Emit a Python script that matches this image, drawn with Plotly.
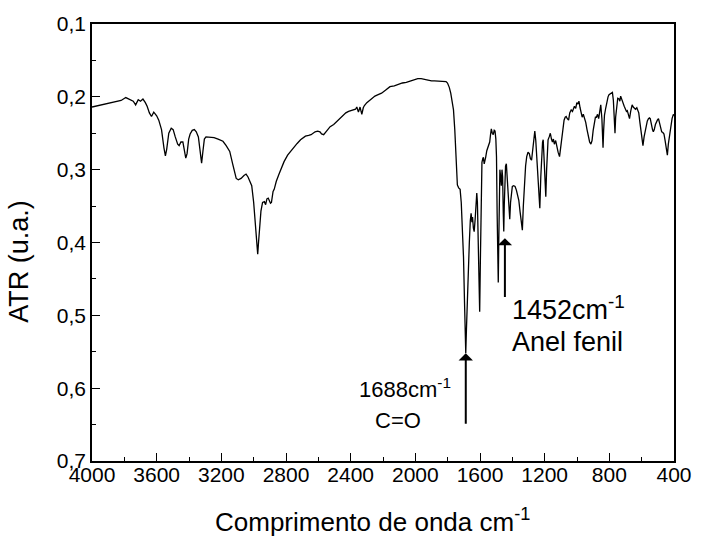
import plotly.graph_objects as go

# Wavenumber (cm-1) and ATR (a.u.)
wavenumber = [4000, 3900, 3820, 3791, 3770, 3745, 3730, 3714, 3700, 3685, 3670, 3659, 3645, 3632, 3618, 3600,
              3587, 3570, 3555, 3546, 3538, 3525, 3510, 3498, 3485, 3470, 3461, 3450, 3438, 3428, 3420, 3412,
              3402, 3393, 3380, 3367, 3355, 3342, 3332, 3322, 3314, 3305, 3295, 3285, 3265, 3245, 3220, 3190,
              3170, 3148, 3130, 3118, 3108, 3095, 3078, 3060, 3047, 3035, 3026, 3012, 3000, 2992, 2986, 2980,
              2975, 2970, 2966, 2960, 2955, 2945, 2934, 2926, 2918, 2910, 2904, 2896, 2890, 2880, 2873, 2860,
              2843, 2830, 2812, 2790, 2772, 2751, 2731, 2710, 2680, 2660, 2645, 2620, 2604, 2590, 2580, 2567,
              2550, 2527, 2505, 2486, 2465, 2445, 2430, 2413, 2395, 2382, 2370, 2362, 2352, 2342, 2331, 2322,
              2315, 2300, 2290, 2270, 2250, 2230, 2209, 2185, 2157, 2130, 2107, 2080, 2056, 2030, 2005, 1985,
              1964, 1945, 1925, 1900, 1882, 1850, 1821, 1810, 1801, 1790, 1781, 1772, 1764, 1756, 1750, 1744,
              1740, 1732, 1723, 1716, 1709, 1702, 1696, 1691, 1688, 1684, 1678, 1672, 1666, 1660, 1655, 1650,
              1646, 1641, 1636, 1630, 1625, 1620, 1616, 1610, 1605, 1602, 1598, 1593, 1588, 1583, 1579, 1574,
              1570, 1565, 1558, 1552, 1545, 1540, 1535, 1530, 1524, 1518, 1512, 1507, 1502, 1498, 1494, 1490,
              1487, 1484, 1481, 1477, 1472, 1468, 1464, 1460, 1456, 1453, 1450, 1446, 1442, 1437, 1432, 1426,
              1420, 1416, 1411, 1406, 1400, 1392, 1383, 1375, 1368, 1360, 1352, 1345, 1338, 1332, 1326, 1318,
              1311, 1303, 1295, 1288, 1281, 1274, 1268, 1261, 1255, 1248, 1240, 1234, 1230, 1224, 1218, 1213,
              1209, 1203, 1198, 1193, 1188, 1183, 1179, 1172, 1165, 1158, 1152, 1146, 1140, 1132, 1125, 1117,
              1108, 1100, 1093, 1087, 1080, 1073, 1067, 1060, 1052, 1045, 1036, 1028, 1022, 1016, 1008, 1001,
              994, 988, 981, 975, 968, 961, 954, 946, 938, 930, 922, 914, 907, 900, 893, 886,
              880, 873, 866, 860, 853, 846, 842, 839, 835, 830, 822, 815, 808, 802, 795, 788,
              781, 775, 770, 765, 761, 755, 748, 740, 735, 730, 722, 715, 708, 700, 694, 689,
              682, 675, 668, 662, 659, 652, 645, 638, 630, 624, 618, 611, 604, 598, 592, 585,
              578, 572, 565, 558, 552, 547, 540, 533, 528, 522, 515, 509, 503, 496, 490, 483,
              476, 469, 462, 455, 449, 441, 435, 427, 420, 412, 404, 400]

atr = [0.214, 0.209, 0.205, 0.201, 0.203, 0.206, 0.211, 0.204, 0.206, 0.203, 0.208, 0.213, 0.222, 0.227, 0.221, 0.226,
       0.232, 0.245, 0.270, 0.281, 0.272, 0.250, 0.243, 0.245, 0.255, 0.265, 0.267, 0.262, 0.262, 0.272, 0.284, 0.278,
       0.258, 0.251, 0.246, 0.245, 0.248, 0.255, 0.270, 0.291, 0.275, 0.258, 0.255, 0.255, 0.255, 0.256, 0.258, 0.261,
       0.267, 0.275, 0.292, 0.305, 0.312, 0.314, 0.312, 0.308, 0.306, 0.310, 0.314, 0.322, 0.345, 0.368, 0.387, 0.410,
       0.416, 0.400, 0.387, 0.365, 0.357, 0.345, 0.344, 0.348, 0.340, 0.339, 0.342, 0.346, 0.345, 0.330, 0.327, 0.316,
       0.306, 0.298, 0.289, 0.280, 0.275, 0.268, 0.264, 0.259, 0.254, 0.253, 0.252, 0.248, 0.247, 0.248, 0.251, 0.252,
       0.247, 0.241, 0.238, 0.234, 0.229, 0.224, 0.222, 0.220, 0.219, 0.218, 0.217, 0.214, 0.221, 0.214, 0.224, 0.215,
       0.212, 0.208, 0.206, 0.202, 0.199, 0.197, 0.195, 0.191, 0.186, 0.185, 0.183, 0.181, 0.180, 0.178, 0.176, 0.175,
       0.175, 0.176, 0.177, 0.178, 0.178, 0.178, 0.178, 0.179, 0.181, 0.187, 0.195, 0.205, 0.218, 0.245, 0.273, 0.305,
       0.321, 0.325, 0.327, 0.345, 0.375, 0.420, 0.480, 0.535, 0.552, 0.520, 0.470, 0.430, 0.400, 0.370, 0.360, 0.372,
       0.365, 0.380, 0.385, 0.368, 0.345, 0.332, 0.345, 0.400, 0.480, 0.495, 0.430, 0.340, 0.290, 0.285, 0.283, 0.292,
       0.285, 0.283, 0.274, 0.270, 0.268, 0.262, 0.252, 0.244, 0.250, 0.252, 0.246, 0.247, 0.258, 0.282, 0.360, 0.430,
       0.455, 0.400, 0.330, 0.300, 0.310, 0.322, 0.300, 0.310, 0.360, 0.385, 0.350, 0.310, 0.295, 0.292, 0.310, 0.340,
       0.362, 0.368, 0.345, 0.328, 0.323, 0.322, 0.323, 0.328, 0.335, 0.342, 0.358, 0.370, 0.383, 0.350, 0.322, 0.295,
       0.282, 0.276, 0.278, 0.285, 0.287, 0.272, 0.255, 0.247, 0.260, 0.285, 0.320, 0.348, 0.353, 0.310, 0.275, 0.262,
       0.259, 0.290, 0.320, 0.337, 0.300, 0.265, 0.259, 0.255, 0.250, 0.258, 0.262, 0.258, 0.265, 0.260, 0.268, 0.276,
       0.282, 0.265, 0.250, 0.245, 0.232, 0.228, 0.227, 0.230, 0.232, 0.222, 0.218, 0.220, 0.215, 0.213, 0.216, 0.208,
       0.210, 0.206, 0.215, 0.222, 0.228, 0.224, 0.228, 0.235, 0.245, 0.255, 0.262, 0.265, 0.260, 0.246, 0.235, 0.228,
       0.228, 0.224, 0.230, 0.218, 0.211, 0.230, 0.255, 0.270, 0.245, 0.225, 0.215, 0.205, 0.200, 0.197, 0.196, 0.195,
       0.194, 0.205, 0.228, 0.250, 0.228, 0.210, 0.202, 0.203, 0.206, 0.199, 0.205, 0.210, 0.213, 0.217, 0.220, 0.219,
       0.226, 0.230, 0.220, 0.213, 0.211, 0.214, 0.216, 0.217, 0.215, 0.218, 0.222, 0.235, 0.250, 0.262, 0.267, 0.255,
       0.247, 0.240, 0.233, 0.230, 0.229, 0.230, 0.240, 0.245, 0.248, 0.245, 0.238, 0.233, 0.232, 0.230, 0.235, 0.243,
       0.248, 0.249, 0.251, 0.260, 0.270, 0.280, 0.265, 0.252, 0.240, 0.230, 0.224, 0.226]

x_ticks = [4000, 3600, 3200, 2800, 2400, 2000, 1600, 1200, 800, 400]
y_ticks = [0.1, 0.2, 0.3, 0.4, 0.5, 0.6, 0.7]
y_ticklabels = ["0,1", "0,2", "0,3", "0,4", "0,5", "0,6", "0,7"]

FONT = "Liberation Sans, Arial, sans-serif"

fig = go.Figure()
fig.add_trace(go.Scatter(x=wavenumber, y=atr, mode="lines",
                         line=dict(color="black", width=1.3), showlegend=False))

axis_common = dict(showgrid=False, zeroline=False, showline=True, linecolor="black",
                   linewidth=1.6, mirror=True, ticks="inside", ticklen=8, tickwidth=1.3,
                   tickcolor="black", tickfont=dict(family=FONT, size=21, color="black"))

fig.update_xaxes(range=[4000, 400], tickvals=x_ticks, tickformat="d", ticklabelstandoff=-6,
                 minor=dict(ticks="inside", ticklen=4, tickwidth=1.3, tickcolor="black", dtick=200),
                 **axis_common)
fig.update_yaxes(range=[0.7, 0.1], tickvals=y_ticks, ticktext=y_ticklabels,
                 minor=dict(ticks="inside", ticklen=4, tickwidth=1.3, tickcolor="black", dtick=0.05,
                            tick0=0.1),
                 **axis_common)

# Axis titles
fig.add_annotation(x=0.4817, y=-0.1365, xref="paper", yref="paper", showarrow=False,
                   text="Comprimento de onda cm<sup>-1</sup>", xanchor="center", yanchor="middle",
                   font=dict(family=FONT, size=26, color="black"))
fig.add_annotation(x=-0.126, y=0.4576, xref="paper", yref="paper", showarrow=False,
                   text="ATR (u.a.)", textangle=-90, xanchor="center", yanchor="middle",
                   font=dict(family=FONT, size=27, color="black"))

# Arrows
fig.add_annotation(x=1688, y=0.552, ax=1688, ay=0.651, xref="x", yref="y", axref="x", ayref="y",
                   text="", showarrow=True, arrowhead=1, arrowsize=1.2, arrowwidth=2, arrowcolor="black")
fig.add_annotation(x=1446, y=0.394, ax=1446, ay=0.477, xref="x", yref="y", axref="x", ayref="y",
                   text="", showarrow=True, arrowhead=1, arrowsize=1.2, arrowwidth=2, arrowcolor="black")

# Labels
fig.add_annotation(x=2065, y=0.60, xref="x", yref="y", text="1688cm<sup>-1</sup>", showarrow=False,
                   font=dict(family=FONT, size=22, color="black"))
fig.add_annotation(x=2107, y=0.644, xref="x", yref="y", text="C=O", showarrow=False,
                   font=dict(family=FONT, size=22, color="black"))
fig.add_annotation(x=1415, y=0.49, xref="x", yref="y", text="1452cm<sup>-1</sup>", showarrow=False,
                   xanchor="left", font=dict(family=FONT, size=27, color="black"))
fig.add_annotation(x=1415, y=0.537, xref="x", yref="y", text="Anel fenil", showarrow=False,
                   xanchor="left", font=dict(family=FONT, size=27, color="black"))

fig.update_layout(width=704, height=541, margin=dict(l=92, r=23, t=24, b=80),
                  paper_bgcolor="white", plot_bgcolor="white")

fig.write_html("out.html")
